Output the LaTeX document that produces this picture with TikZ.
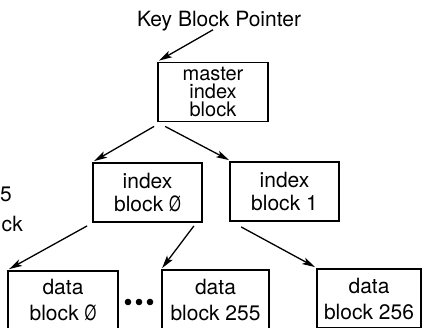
\documentclass[tikz,border=0pt]{standalone}
\usepackage{fontspec}
\usepackage{graphicx}
\setmainfont{TeX Gyre Heros}
\usetikzlibrary{arrows.meta}

% slashed zero as printed in the block numbers
\newcommand{\slzero}{\scalebox{0.72}[1]{Ø}}

\tikzset{
  blockbox/.style={draw=black, line width=1.8pt, inner sep=0pt, align=center,
    minimum width=#1, minimum height=59pt, text=black},
  blockbox/.default=110pt,
  ptr/.style={line width=1.3pt, -{Stealth[length=13pt,width=7pt,inset=3pt]}},
  lbl/.style={inner sep=0pt, text=black}
}

\begin{document}
\begin{tikzpicture}[x=1pt, y=-1pt]
  \useasboundingbox (0,0) rectangle (422,327);
  \clip (0,0) rectangle (422,327);
  \fill[white] (0,0) rectangle (422,327);

  % pointer label
  \node[lbl, anchor=base, font=\fontsize{21}{23}\selectfont] (key) at (219,26) {Key Block Pointer};

  % master index block
  \node[blockbox=110pt, font=\fontsize{20}{18}\selectfont] (master) at (213,92)
    {master\\index\\block};

  % index blocks
  \node[blockbox=109pt, font=\fontsize{21}{23}\selectfont] (idx0) at (147.5,192.5)
    {index\\block \slzero};
  \node[blockbox=109pt, font=\fontsize{21}{23}\selectfont] (idx1) at (284.5,191.5)
    {index\\block 1};

  % data blocks (run past the lower edge)
  \node[blockbox=110pt, font=\fontsize{21}{26}\selectfont] (d0) at (63,300.5)
    {data\\block \slzero};
  \node[blockbox=107pt, font=\fontsize{21}{26}\selectfont] (d255) at (215.5,299.5)
    {data\\block 255};
  \node[blockbox=104pt, font=\fontsize{21}{26}\selectfont] (d256) at (369,298.5)
    {data\\block 256};

  % ellipsis between data blocks
  \fill[black] (128,302) circle (3.3) (139,302) circle (3.3) (150,302) circle (3.3);

  % fragments of neighbouring text at the left edge
  \node[lbl, anchor=base east, font=\fontsize{21}{23}\selectfont] (frag5) at (12,201) {5};
  \node[lbl, anchor=base east, font=\fontsize{21}{23}\selectfont] (fragck) at (23,231) {ck};

  % pointers
  \draw[ptr] ([xshift=-6pt,yshift=1pt]key.south) -- ([shift={(2,-1)}]master.north west);
  \draw[ptr] ([shift={(-3,4)}]master.south west) -- ([shift={(2,-1)}]idx0.north west);
  \draw[ptr] ([shift={(8,4)}]master.south west) -- ([shift={(0,-1)}]idx1.north west);
  \draw[ptr] ([shift={(-5,3)}]idx0.south west) -- ([shift={(2,-1)}]d0.north west);
  \draw[ptr] ([shift={(-9,3)}]idx0.south east) -- ([shift={(1,-1)}]d255.north west);
  \draw[ptr] ([shift={(12,5)}]idx1.south west) -- ([shift={(-1,-1)}]d256.north west);
\end{tikzpicture}
\end{document}
